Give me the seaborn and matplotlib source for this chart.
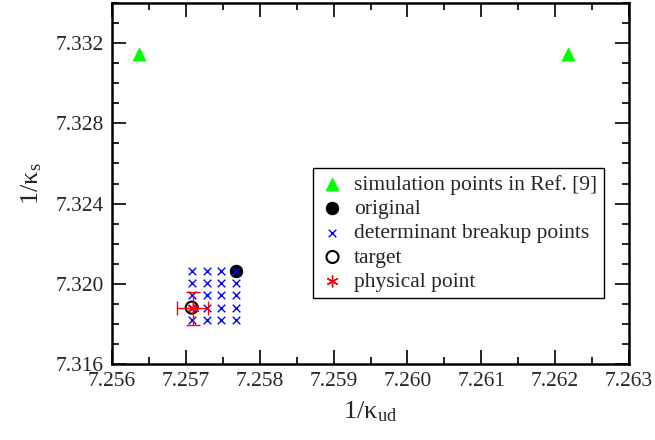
import numpy as np
import pandas as pd
import seaborn as sns
import matplotlib.pyplot as plt
from matplotlib.ticker import MultipleLocator, FormatStrFormatter

## data
sim_x = [7.25636, 7.26217]
sim_y = [7.33145, 7.33145]

orig_x = [7.25768]
orig_y = [7.32063]

grid_cols = [7.25708, 7.25728, 7.25748, 7.25768]
grid_rows = [7.31820, 7.31881, 7.31942, 7.32002, 7.32063]

target_x = [7.25708]
target_y = [7.31881]

phys_x = [7.25709]
phys_y = [7.31877]
phys_xerr = [0.00021]
phys_yerr = [0.00083]

## style
sns.set_style("ticks")
plt.rcParams["font.family"] = ["Liberation Serif", "DejaVu Serif"]
plt.rcParams["mathtext.fontset"] = "custom"
plt.rcParams["mathtext.rm"] = "Liberation Serif"
plt.rcParams["mathtext.it"] = "Liberation Serif:italic"

fig = plt.figure(figsize=(6.55, 4.4), dpi=100)
ax = fig.add_axes([112 / 655, 1 - 364 / 440, 517 / 655, 361 / 440])

## determinant breakup grid
gx, gy = np.meshgrid(grid_cols, grid_rows)
grid = pd.DataFrame({"x": gx.ravel(), "y": gy.ravel()})

sns.scatterplot(x=sim_x, y=sim_y, ax=ax, marker="^", s=90, color="#00ff00",
                edgecolor="#00ff00", linewidth=0.5, label="simulation points in Ref. [9]", zorder=3)
sns.scatterplot(x=orig_x, y=orig_y, ax=ax, marker="o", s=80, color="black",
                edgecolor="black", label="original", zorder=3)
sns.scatterplot(data=grid, x="x", y="y", ax=ax, marker="x", s=30, color="blue",
                linewidth=1.0, label="determinant breakup points", zorder=4)
sns.scatterplot(x=target_x, y=target_y, ax=ax, marker="o", s=75, facecolor="none",
                edgecolor="black", linewidth=1.5, label="target", zorder=5)
ax.errorbar(phys_x, phys_y, xerr=phys_xerr, yerr=phys_yerr, fmt="none",
            ecolor="red", elinewidth=1, capsize=5, capthick=1, zorder=5)
sns.scatterplot(x=phys_x, y=phys_y, ax=ax, marker=(6, 2, 0), s=60, color="red",
                edgecolor="red", linewidth=1.0, label="physical point", zorder=6)

## axes
ax.set_xlim(7.256, 7.263)
ax.set_ylim(7.316, 7.334)
ax.xaxis.set_major_locator(MultipleLocator(0.001))
ax.xaxis.set_minor_locator(MultipleLocator(0.0005))
ax.yaxis.set_major_locator(MultipleLocator(0.004))
ax.yaxis.set_minor_locator(MultipleLocator(0.001))
ax.xaxis.set_major_formatter(FormatStrFormatter("%.3f"))
ax.yaxis.set_major_formatter(FormatStrFormatter("%.3f"))
ax.tick_params(which="both", direction="in", top=True, right=True,
               labelsize=15.5, width=1.2, color="black")
ax.tick_params(which="major", length=10, pad=6)
ax.tick_params(which="minor", length=5)
for sp in ax.spines.values():
    sp.set_linewidth(1.8)
    sp.set_color("black")

ax.set_xlabel("1/κ$_{\\mathrm{ud}}$", fontsize=19, labelpad=6)
ax.set_ylabel("1/κ$_{\\mathrm{s}}$", fontsize=19, labelpad=8)

leg = ax.legend(loc="upper left", bbox_to_anchor=(0.389, 0.543), borderaxespad=0,
                fontsize=15.5, frameon=True, fancybox=False, handletextpad=0.4,
                labelspacing=0.2, handlelength=1.2, borderpad=0.3)
leg.get_frame().set_edgecolor("black")
leg.get_frame().set_linewidth(1.0)
leg.get_frame().set_alpha(1)

fig.savefig("out.png", dpi=100)
